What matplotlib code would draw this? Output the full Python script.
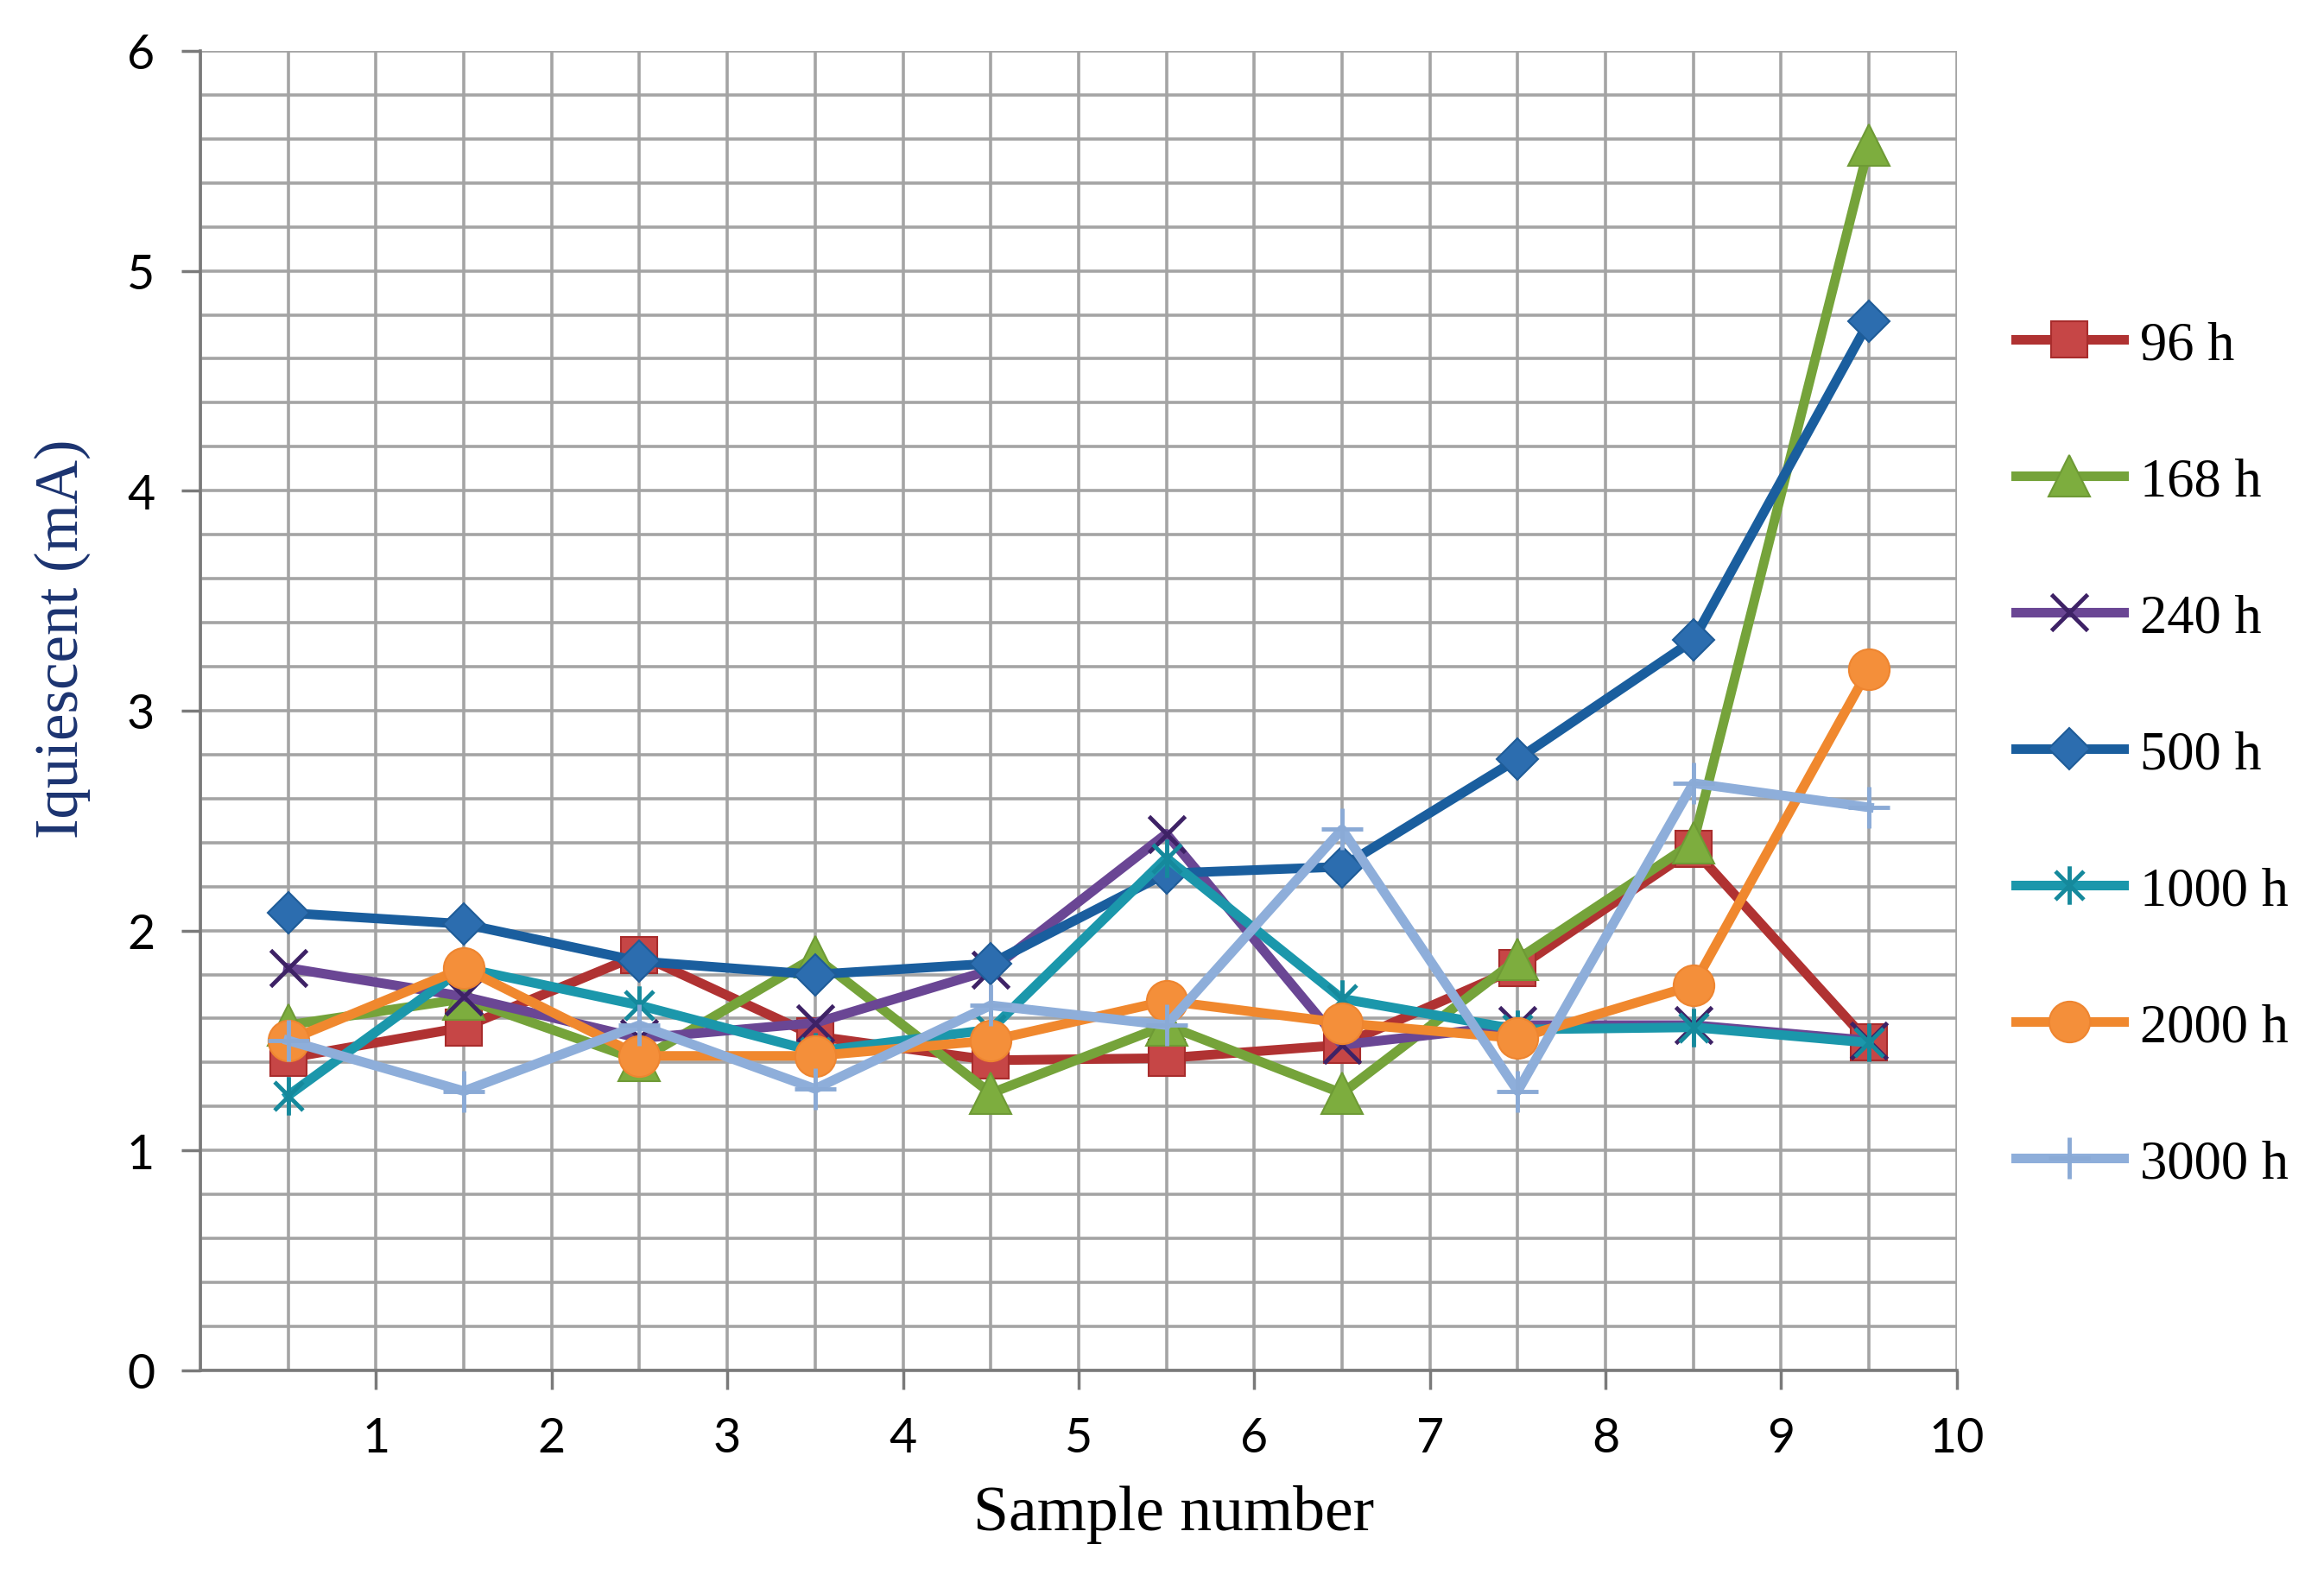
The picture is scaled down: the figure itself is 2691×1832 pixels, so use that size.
import matplotlib
matplotlib.use('Agg')
import matplotlib.pyplot as plt
from matplotlib.path import Path
from matplotlib.ticker import MultipleLocator

# Данные: номер образца и ток покоя (мА) для каждой длительности испытаний
samples = [0.5, 1.5, 2.5, 3.5, 4.5, 5.5, 6.5, 7.5, 8.5, 9.5]
h96 = [1.42, 1.56, 1.89, 1.52, 1.41, 1.42, 1.48, 1.83, 2.37, 1.49]
h168 = [1.57, 1.69, 1.41, 1.88, 1.26, 1.57, 1.26, 1.87, 2.40, 5.57]
h240 = [1.83, 1.70, 1.51, 1.58, 1.82, 2.44, 1.48, 1.57, 1.57, 1.50]
h500 = [2.08, 2.03, 1.86, 1.80, 1.85, 2.26, 2.29, 2.78, 3.32, 4.77]
h1000 = [1.25, 1.83, 1.66, 1.45, 1.55, 2.33, 1.69, 1.55, 1.56, 1.49]
h2000 = [1.50, 1.83, 1.43, 1.43, 1.50, 1.68, 1.58, 1.51, 1.75, 3.19]
h3000 = [1.50, 1.27, 1.57, 1.28, 1.66, 1.57, 2.46, 1.27, 2.67, 2.56]

labels = ['96 h', '168 h', '240 h', '500 h', '1000 h', '2000 h', '3000 h']
x_ticks = [1, 2, 3, 4, 5, 6, 7, 8, 9, 10]
y_ticks = [0, 1, 2, 3, 4, 5, 6]

# Звёздочка как в Excel: крест + вертикальная линия
asterisk = Path([(-1, -1), (1, 1), (-1, 1), (1, -1), (0, -1.35), (0, 1.35)],
                [Path.MOVETO, Path.LINETO, Path.MOVETO, Path.LINETO, Path.MOVETO, Path.LINETO])

fig = plt.figure(figsize=(26.91, 18.33), dpi=100)
ax = fig.add_axes([0.0862, 0.1337, 0.7558, 0.8336])

lw = 8
ax.plot(samples, h96, color='#B03232', lw=lw, marker='s', ms=30,
        mfc='#C64646', mec='#A82C2C', mew=1.5, label=labels[0])
ax.plot(samples, h168, color='#75A33A', lw=lw, marker='^', ms=34,
        mfc='#7DAD3E', mec='#6E9A35', mew=1.5, label=labels[1])
ax.plot(samples, h240, color='#6A4694', lw=lw, marker='x', ms=30,
        mec='#3E2266', mew=3.5, label=labels[2])
ax.plot(samples, h500, color='#1A5E9E', lw=lw, marker='D', ms=24,
        mfc='#2C6DAF', mec='#1F5C98', mew=1.5, label=labels[3])
ax.plot(samples, h1000, color='#1B97AB', lw=lw, marker=asterisk, ms=32,
        mec='#15899C', mew=3.5, label=labels[4])
ax.plot(samples, h2000, color='#F0882E', lw=lw, marker='o', ms=34,
        mfc='#F48F3A', mec='#EE8530', mew=1.5, label=labels[5])
ax.plot(samples, h3000, color='#8EAEDA', lw=lw, marker='+', ms=34,
        mec='#8AAAD6', mew=3.5, label=labels[6])

ax.set_xlim(0, 10)
ax.set_ylim(0, 6)
ax.set_xticks(x_ticks)
ax.set_yticks(y_ticks)
ax.xaxis.set_minor_locator(MultipleLocator(0.5))
ax.yaxis.set_minor_locator(MultipleLocator(0.2))
ax.grid(True, which='both', color='#A4A4A4', lw=2.6)
ax.set_axisbelow(True)

for side in ['top', 'right']:
    ax.spines[side].set_visible(False)
for side in ['left', 'bottom']:
    ax.spines[side].set_color('#7A7A7A')
    ax.spines[side].set_linewidth(2.6)

ax.tick_params(which='major', length=16, width=2.5, color='#7A7A7A',
               labelsize=40, pad=22)
ax.tick_params(which='minor', length=0)
for t in ax.get_xticklabels() + ax.get_yticklabels():
    t.set_fontfamily('Lato')

fig.text(1359 / 2691, 1 - 1754 / 1833, 'Sample number', ha='center', va='center',
         fontsize=53, family='Liberation Serif')
fig.text(72 / 2691, 1 - 740 / 1833, 'Iquiescent (mA)', ha='center', va='center',
         rotation=90, fontsize=51, family='Liberation Serif', color='#1B3370')

fig.legend(loc='center left', bbox_to_anchor=(0.8673, 0.5226), frameon=False,
           prop={'family': 'Liberation Serif', 'size': 45},
           handlelength=2.0, handletextpad=0.3, labelspacing=1.6,
           borderpad=0, borderaxespad=0)

fig.savefig('out.png', dpi=100)
